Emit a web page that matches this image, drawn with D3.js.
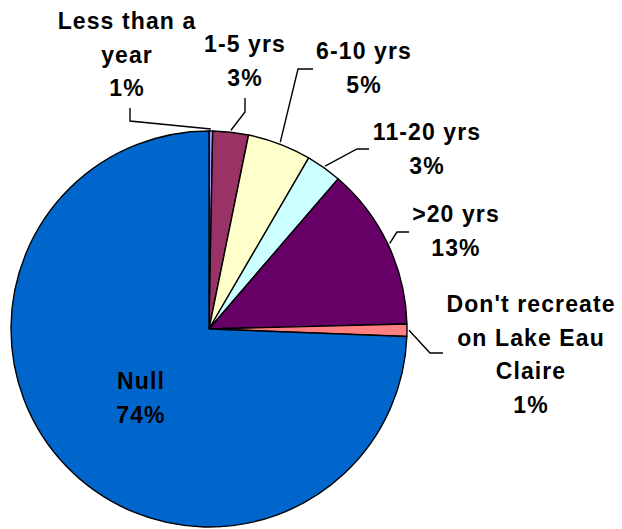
<!DOCTYPE html>
<html>
<head>
<meta charset="utf-8">
<script src="https://cdn.jsdelivr.net/npm/d3@7"></script>
<style>
  html, body { margin: 0; padding: 0; background: #ffffff; }
  svg { display: block; }
  text { font-family: "Liberation Sans", Arial, sans-serif; font-weight: bold; font-size: 23px; letter-spacing: 1.1px; fill: #000; }
</style>
</head>
<body>
<svg id="chart" width="622" height="529"></svg>
<script>
// ---- data ----
const categories = ["Less than a year", "1-5 yrs", "6-10 yrs", "11-20 yrs", ">20 yrs", "Don't recreate on Lake Eau Claire", "Null"];
const values = [0.3, 2.9, 5.2, 2.9, 13.3, 1.0, 74.4];
const labelLines = [["Less than a", "year"], ["1-5 yrs"], ["6-10 yrs"], ["11-20 yrs"], [">20 yrs"], ["Don't recreate", "on Lake Eau", "Claire"], ["Null"]];
const pctLabels = ["1%", "3%", "5%", "3%", "13%", "1%", "74%"];
const colors = ["#9999FF", "#993366", "#FFFFCC", "#CCFFFF", "#660066", "#FF8080", "#0066CC"];

// ---- layout (annotation placement) ----
const cx = 209, cy = 329, R = 198, lineH = 33.5;
const labelPos = [
  { x: 127, y: 29, elbow: [130, 121], end: [130, 108] },
  { x: 245, y: 52, elbow: [245, 112], end: [245, 98] },
  { x: 364, y: 59, elbow: [298, 69], end: [313, 69] },
  { x: 427, y: 140, elbow: [357, 149], end: [369, 149] },
  { x: 456, y: 222, elbow: [397, 232], end: [409, 232] },
  { x: 531, y: 312, elbow: [430, 353], end: [443, 353] },
  { x: 141, y: 389, elbow: null, end: null }
];

const svg = d3.select("#chart");
const g = svg.append("g").attr("transform", `translate(${cx},${cy})`);

const pie = d3.pie().sort(null).value(d => d).startAngle(0).endAngle(2 * Math.PI);
const arcs = pie(values);
const arc = d3.arc().innerRadius(0).outerRadius(R);

g.selectAll("path.slice")
  .data(arcs)
  .enter().append("path")
  .attr("class", "slice")
  .attr("d", arc)
  .attr("fill", (d, i) => colors[i])
  .attr("stroke", "#000")
  .attr("stroke-width", 1.4)
  .attr("stroke-linejoin", "round");

// leader lines
const line = d3.line();
arcs.forEach((a, i) => {
  const p = labelPos[i];
  if (!p.elbow) return;
  const mid = (a.startAngle + a.endAngle) / 2;
  const edge = [cx + (R + 2) * Math.sin(mid), cy - (R + 2) * Math.cos(mid)];
  svg.append("path")
    .attr("d", line([edge, p.elbow, p.end]))
    .attr("fill", "none")
    .attr("stroke", "#000")
    .attr("stroke-width", 1.4);
});

// labels
arcs.forEach((a, i) => {
  const p = labelPos[i];
  const lines = labelLines[i].concat([pctLabels[i]]);
  const t = svg.append("text").attr("text-anchor", "middle");
  lines.forEach((s, k) => {
    t.append("tspan").attr("x", p.x).attr("y", p.y + k * lineH).text(s);
  });
});
</script>
</body>
</html>
